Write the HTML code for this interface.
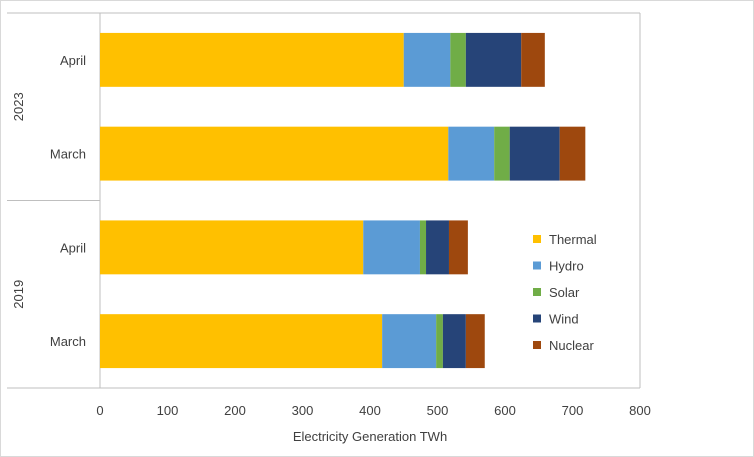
<!DOCTYPE html>
<html><head><meta charset="utf-8"><style>
html,body{margin:0;padding:0;background:#fff}
svg{display:block;font-family:"Liberation Sans",sans-serif}
</style></head><body>
<svg id="c" width="754" height="457">
<rect x="0.5" y="0.5" width="753" height="456" fill="#fff" stroke="#d9d9d9"/>
</svg>
<script>
const categories=["April","March","April","March"];
const years=["2023","2019"];
const seriesNames=["Thermal","Hydro","Solar","Wind","Nuclear"];
const thermal=[450,516,390,418];
const hydro=[69,68,84,80];
const solar=[23,23,9,10];
const wind=[82,74,34,34];
const nuclear=[35,38,28,28];
const xTicks=[0,100,200,300,400,500,600,700,800];
const colors=["#FFC000","#5B9BD5","#70AD47","#264478","#9E480E"];
const series=[thermal,hydro,solar,wind,nuclear];
const svgEl=document.getElementById('c');const NS="http://www.w3.org/2000/svg";
const x0=100,x1=640,yTop=13,yBot=388,xmax=800;
const xs=v=>x0+v/xmax*(x1-x0);
const band=(yBot-yTop)/categories.length;
function mk(t,a,txt){const e=document.createElementNS(NS,t);for(const k in a)e.setAttribute(k,a[k]);if(txt!==undefined)e.textContent=txt;svgEl.appendChild(e);return e;}
let e;
e=mk('line',{x1:7,y1:yTop,x2:x1,y2:yTop,stroke:'#bfbfbf'});


e=mk('line',{x1:7,y1:yBot,x2:x1,y2:yBot,stroke:'#bfbfbf'});


e=mk('line',{x1:x1,y1:yTop,x2:x1,y2:yBot,stroke:'#bfbfbf'});


e=mk('line',{x1:x0,y1:yTop,x2:x0,y2:yBot,stroke:'#bfbfbf'});


e=mk('line',{x1:7,y1:(yTop+yBot)/2,x2:x0,y2:(yTop+yBot)/2,stroke:'#bfbfbf'});


categories.forEach((c,i)=>{
  const yc=yTop+band*(i+0.5), h=band*0.575, y=yc-h/2;
  let acc=0;
  series.forEach((s,j)=>{
    const r=mk('rect',{x:xs(acc),y:y,width:xs(acc+s[i])-xs(acc),height:h,fill:colors[j]});
    
    
    acc+=s[i];
  });
  const t=mk('text',{x:86,y:yc+5,'text-anchor':'end','font-size':13,fill:'#404040'},c);
  
  
});
years.forEach((yv,k)=>{
  const yc=yTop+band*(2*k+1);
  const t=mk('text',{x:23,y:yc,'text-anchor':'middle','font-size':13,fill:'#404040',transform:`rotate(-90 23 ${yc})`},yv);
  
  
});
xTicks.forEach(v=>{
  const t=mk('text',{x:xs(v),y:415,'text-anchor':'middle','font-size':13,fill:'#404040'},String(v));
  
  
});
e=mk('text',{x:370,y:441,'text-anchor':'middle','font-size':13,fill:'#404040'},'Electricity Generation TWh');


seriesNames.forEach((n,j)=>{
  const y=239+j*26.5;
  const r=mk('rect',{x:533,y:y-4,width:8,height:8,fill:colors[j]});
  
  
  const t=mk('text',{x:549,y:y+5,'font-size':13,fill:'#404040'},n);
  
  
});
</script>
</body></html>
